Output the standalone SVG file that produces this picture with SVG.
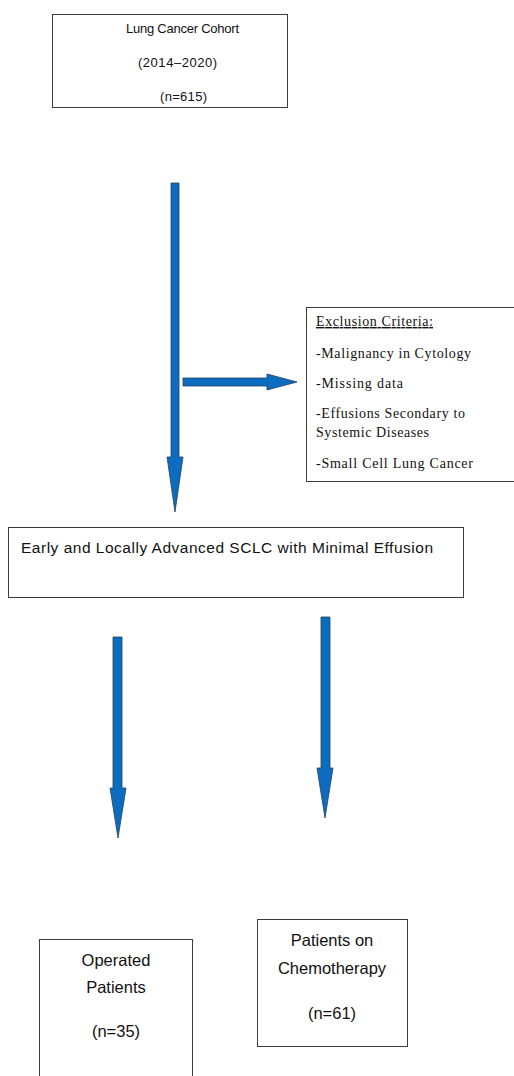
<svg xmlns="http://www.w3.org/2000/svg" width="514" height="1076" viewBox="0 0 514 1076">
<style>
.box{fill:#fff;stroke:#3c3c3c;stroke-width:1}
.sans{font-family:"Liberation Sans",Arial,sans-serif;fill:#111}
.serif{font-family:"Liberation Serif","Times New Roman",serif;fill:#111;font-size:14px}
.arrow{fill:#0B6CC0;stroke:#23405e;stroke-width:0.8;stroke-linejoin:miter}
</style>
<rect width="514" height="1076" fill="#fff"/>
<g id="connectors">
<polygon class="arrow" points="171,183 179,183 179,457 183,457 175,512 167,457 171,457"/>
<polygon class="arrow" points="183,378 267,378 267,374 297,382 267,390 267,386 183,386"/>
<polygon class="arrow" points="113,637 122,637 122,788 126,788 118,838 110,788 113,788"/>
<polygon class="arrow" points="321,617 330,617 330,768 333,768 325,818 317,768 321,768"/>
</g>
<g id="cohort">
<rect class="box" x="52.5" y="14.5" width="235" height="93"/>
<text class="sans" font-size="13" x="126" y="33" textLength="113" lengthAdjust="spacing">Lung Cancer Cohort</text>
<text class="sans" font-size="13" x="138" y="67" textLength="79" lengthAdjust="spacing">(2014–2020)</text>
<text class="sans" font-size="13" x="160" y="101" textLength="47" lengthAdjust="spacing">(n=615)</text>
</g>
<g id="exclusion">
<rect class="box" x="306.5" y="307.5" width="210" height="174"/>
<text class="serif" x="316" y="326" textLength="117" lengthAdjust="spacing" text-decoration="underline">Exclusion Criteria:</text>
<text class="serif" x="316" y="358" textLength="155" lengthAdjust="spacing">-Malignancy in Cytology</text>
<text class="serif" x="316" y="388" textLength="87" lengthAdjust="spacing">-Missing data</text>
<text class="serif" x="316" y="418" textLength="149" lengthAdjust="spacing">-Effusions Secondary to</text>
<text class="serif" x="316" y="437" textLength="113" lengthAdjust="spacing">Systemic Diseases</text>
<text class="serif" x="316" y="468" textLength="157" lengthAdjust="spacing">-Small Cell Lung Cancer</text>
</g>
<g id="sclc">
<rect class="box" x="8.5" y="527.5" width="455" height="70"/>
<text class="sans" font-size="15.5" x="21" y="553" textLength="412" lengthAdjust="spacing">Early and Locally Advanced SCLC with Minimal Effusion</text>
</g>
<g id="operated">
<rect class="box" x="39.5" y="939.5" width="153" height="150"/>
<text class="sans" font-size="16.5" x="116" y="966" text-anchor="middle">Operated</text>
<text class="sans" font-size="16.5" x="116" y="993" text-anchor="middle">Patients</text>
<text class="sans" font-size="16.5" x="116" y="1037" text-anchor="middle">(n=35)</text>
</g>
<g id="chemo">
<rect class="box" x="257.5" y="919.5" width="150" height="127"/>
<text class="sans" font-size="16.5" x="332" y="946" text-anchor="middle">Patients on</text>
<text class="sans" font-size="16.5" x="332" y="974" text-anchor="middle">Chemotherapy</text>
<text class="sans" font-size="16.5" x="332" y="1019" text-anchor="middle">(n=61)</text>
</g>
</svg>
